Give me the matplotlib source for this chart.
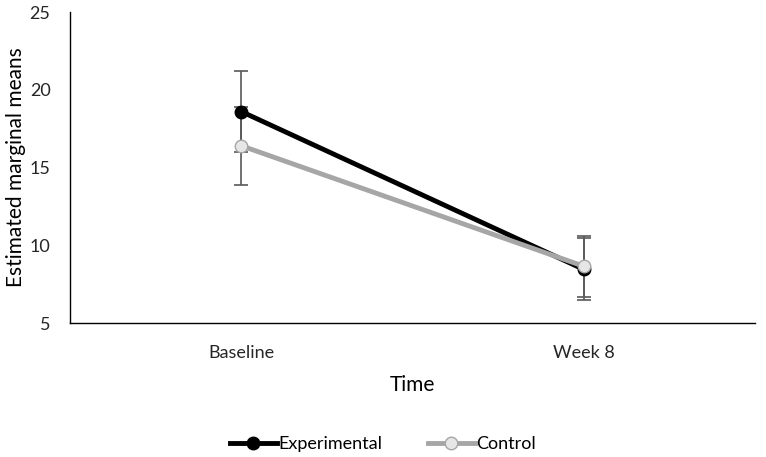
import matplotlib.pyplot as plt

plt.rcParams['font.family'] = ['Lato', 'DejaVu Sans']

time_points = ["Baseline", "Week 8"]
experimental = [18.6, 8.45]
experimental_err = [2.6, 2.0]
control = [16.4, 8.65]
control_err = [2.5, 1.95]

fig = plt.figure(figsize=(7.66, 4.57), dpi=100)
ax = fig.add_axes([0.0914, 0.2932, 0.8942, 0.6805])

x = range(len(time_points))

# error bars first so markers sit on top
ax.errorbar(x, control, yerr=control_err, fmt='none', ecolor='#595959',
            elinewidth=1.2, capsize=5, capthick=1.2, zorder=2)
ax.errorbar(x, experimental, yerr=experimental_err, fmt='none', ecolor='#595959',
            elinewidth=1.2, capsize=5, capthick=1.2, zorder=2)

ax.plot(x, experimental, color='black', linewidth=3.5, marker='o', markersize=9,
        markerfacecolor='black', markeredgecolor='black', label='Experimental', zorder=3)
ax.plot(x, control, color='#a6a6a6', linewidth=3.5, marker='o', markersize=9,
        markerfacecolor='#e6e6e6', markeredgecolor='#a6a6a6', label='Control', zorder=4)

ax.set_xlim(-0.5, 1.5)
ax.set_ylim(5, 25)
ax.set_yticks([5, 10, 15, 20, 25])
ax.set_xticks(list(x))
ax.set_xticklabels(time_points)
ax.tick_params(length=0, labelsize=13, colors='#262626')
ax.tick_params(axis='x', pad=16)
ax.tick_params(axis='y', pad=14)

for s in ['top', 'right']:
    ax.spines[s].set_visible(False)
for s in ['left', 'bottom']:
    ax.spines[s].set_color('black')
    ax.spines[s].set_linewidth(1)

ax.set_xlabel("Time", fontsize=15, labelpad=10)
ax.set_ylabel("Estimated marginal means", fontsize=15, labelpad=3)

fig.legend(loc='lower center', bbox_to_anchor=(0.5, -0.025), ncol=2, frameon=False,
           fontsize=13, handlelength=2.6, columnspacing=2.5, handletextpad=0.1)

plt.savefig("out.png")
